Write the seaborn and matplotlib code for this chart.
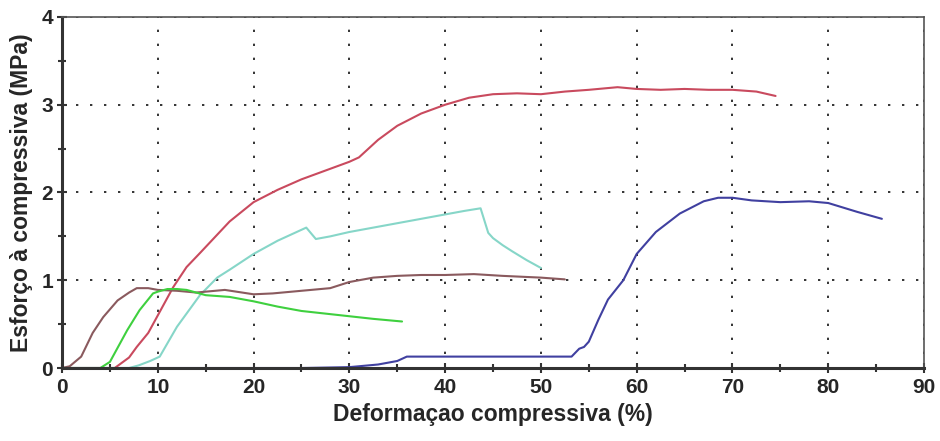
import pandas as pd
import matplotlib.pyplot as plt
import seaborn as sns
from matplotlib.ticker import MultipleLocator

# curves (x = deformation %, y = stress MPa)
red_x = [0, 5.5, 7, 7.8, 9, 9.9, 11.6, 13, 14.4, 17.5, 20, 22.5, 25, 28, 30, 31, 33, 35, 37.5, 40, 42.5, 45, 47.5, 50, 52.5, 55, 58, 60, 62.5, 65, 67.5, 70, 72.5, 74.5]
red_y = [0, 0, 0.12, 0.24, 0.4, 0.58, 0.92, 1.15, 1.31, 1.67, 1.89, 2.03, 2.15, 2.27, 2.35, 2.4, 2.6, 2.76, 2.9, 3.0, 3.08, 3.12, 3.13, 3.12, 3.15, 3.17, 3.2, 3.18, 3.17, 3.18, 3.17, 3.17, 3.15, 3.1]

cyan_x = [0, 7, 8, 9.2, 10.2, 12, 14.4, 16.2, 17.5, 20, 22.5, 25.5, 26.5, 28, 30, 32.5, 35, 37.5, 40, 42, 43.7, 44.5, 45, 46, 47, 48.5, 50]
cyan_y = [0, 0, 0.03, 0.08, 0.13, 0.47, 0.83, 1.03, 1.12, 1.3, 1.45, 1.6, 1.47, 1.5, 1.55, 1.6, 1.65, 1.7, 1.75, 1.79, 1.82, 1.54, 1.48, 1.4, 1.33, 1.23, 1.14]

brown_x = [0, 0.8, 2, 3.2, 4.3, 5.8, 7, 7.8, 9, 10, 12, 14, 17, 20, 22, 24, 26, 28, 30, 32.5, 35, 37.5, 40, 43, 46, 50, 52.5]
brown_y = [0, 0.02, 0.13, 0.4, 0.58, 0.77, 0.86, 0.91, 0.91, 0.89, 0.88, 0.86, 0.89, 0.84, 0.85, 0.87, 0.89, 0.91, 0.98, 1.03, 1.05, 1.06, 1.06, 1.07, 1.05, 1.03, 1.01]

green_x = [0, 4, 5, 6, 6.8, 8.1, 9.5, 10, 11, 12, 13, 14, 15, 17.5, 20, 22.5, 25, 27.5, 30, 32.5, 35.5]
green_y = [0, 0, 0.07, 0.27, 0.43, 0.66, 0.85, 0.87, 0.9, 0.9, 0.89, 0.86, 0.83, 0.81, 0.76, 0.7, 0.65, 0.62, 0.59, 0.56, 0.53]

blue_x = [0, 25, 30, 33, 35, 36, 45, 53.2, 54, 54.5, 55, 56, 57, 58.6, 60, 62, 64.5, 67, 68.5, 70, 72, 75, 78, 80, 83, 85.6]
blue_y = [0, 0, 0.01, 0.04, 0.08, 0.13, 0.13, 0.13, 0.22, 0.24, 0.3, 0.55, 0.78, 1.0, 1.3, 1.55, 1.76, 1.9, 1.94, 1.94, 1.91, 1.89, 1.9, 1.88, 1.78, 1.7]

series = {
    'red': (red_x, red_y),
    'cyan': (cyan_x, cyan_y),
    'brown': (brown_x, brown_y),
    'green': (green_x, green_y),
    'blue': (blue_x, blue_y),
}
colors = {'red': '#c94a5e', 'cyan': '#86d6c8', 'brown': '#8a5a5e',
          'green': '#3fd03f', 'blue': '#4040a0'}

rows = []
for name, (xs, ys) in series.items():
    for x, y in zip(xs, ys):
        rows.append({'curva': name, 'x': x, 'y': y})
df = pd.DataFrame(rows)

sns.set_style('white')
plt.rcParams['font.family'] = ['Liberation Sans', 'DejaVu Sans']

fig = plt.figure(figsize=(9.4, 4.41), dpi=100)
ax = fig.add_axes([0.066, 0.1655, 0.917, 0.796])

sns.lineplot(data=df, x='x', y='y', hue='curva', palette=colors, sort=False,
             estimator=None, linewidth=1.5, legend=False, ax=ax)
for line in ax.get_lines():
    line.set_clip_on(False)

ax.set_xlim(0, 90)
ax.set_ylim(0, 4)
ax.xaxis.set_major_locator(MultipleLocator(10))
ax.xaxis.set_minor_locator(MultipleLocator(5))
ax.yaxis.set_major_locator(MultipleLocator(1))
ax.yaxis.set_minor_locator(MultipleLocator(0.5))
ax.grid(True, which='major', linestyle=(0, (1.2, 6)), color='#333333', linewidth=1.4)

ax.tick_params(which='both', direction='inout', color='#333333', labelsize=15,
               length=7, width=1.5, bottom=True, left=True)
ax.tick_params(which='minor', length=6)
ax.tick_params(axis='x', pad=4)
ax.tick_params(axis='y', pad=3)
for lab in ax.get_xticklabels() + ax.get_yticklabels():
    lab.set_fontweight('bold')

for side in ['left', 'bottom']:
    ax.spines[side].set_linewidth(2.2)
    ax.spines[side].set_color('#333333')
for side in ['top', 'right']:
    ax.spines[side].set_linewidth(1.2)
    ax.spines[side].set_color('#555555')

ax.set_xlabel('Deformaçao compressiva (%)', fontsize=16.5, fontweight='bold', labelpad=4)
ax.set_ylabel('Esforço à compressiva (MPa)', fontsize=16.5, fontweight='bold', labelpad=6)

fig.savefig('out.png', dpi=100)
